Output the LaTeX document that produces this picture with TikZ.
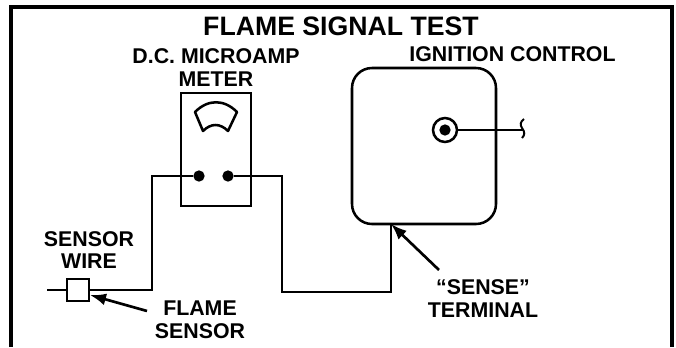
\documentclass[tikz,border=0pt]{standalone}
\usepackage{fontspec}
\setmainfont{Liberation Sans}
\usetikzlibrary{arrows.meta}
\tikzset{
  wire/.style={line width=1.9pt},
  pointer/.style={line width=2pt,-{Latex[length=12pt,width=9pt]}},
  lbl/.style={font=\bfseries\fontsize{16}{17}\selectfont,align=center,inner sep=0pt},
  terminal/.style={circle,fill=black,inner sep=0pt,minimum size=8.5pt},
}
\begin{document}
\begin{tikzpicture}[x=0.75pt,y=-0.75pt]
      \useasboundingbox (0,0) rectangle (676,347);
      \draw[line width=3pt] (11.3,347) -- (11.3,7) -- (671.5,7) -- (671.5,347);
      \node[lbl,font=\bfseries\fontsize{20}{24}\selectfont] (title) at (341,26) {FLAME SIGNAL TEST};
      \node[lbl] (meterlbl) at (216,67.5) {D.C. MICROAMP\\METER};
      \node[lbl] (controllbl) at (512.5,54) {IGNITION CONTROL};
      \node[lbl] (wirelbl) at (89,250) {SENSOR\\WIRE};
      \node[lbl] (sensorlbl) at (200,320) {FLAME\\SENSOR};
      \node[lbl] (senselbl) at (483,298.5) {``SENSE''\\TERMINAL};
      % meter
      \node[draw,wire,minimum width=52.5pt,minimum height=84.75pt,inner sep=0pt] (meter) at (216,149.5) {};
      \draw[wire,line join=round] (195,112) .. controls (208,99) and (224,99) .. (237,112) -- (228,131)
        .. controls (220,123) and (211,123) .. (203,131) -- cycle;
      \node[terminal] (dotl) at (199,176) {};
      \node[terminal] (dotr) at (228,176) {};
      % control
      \node[draw,wire,rounded corners=15pt,minimum width=108pt,minimum height=117pt,inner sep=0pt] (control) at (424,146) {};
      \node[draw,wire,circle,minimum size=18pt,inner sep=0pt] (socket) at (445,130) {};
      \node[terminal] (pin) at (445,130) {};
      \coordinate (wireend) at (523,130);
      \draw[wire] (socket.east) -- (wireend);
      \draw[line width=1.5pt] (524,119) .. controls (520,122) and (520,125) .. (522,128)
        .. controls (525,132) and (525,135) .. (522,138);
      % sensor
      \node[draw,wire,fill=white,minimum size=16.5pt,inner sep=0pt] (sensor) at (78,290) {};
      \coordinate (stub) at (47,290);
      \draw[wire] (stub) -- (sensor.west);
      \coordinate (cornerl) at (152,176);
      \draw[wire] (sensor.east) -| (cornerl) -- (dotl);
      \coordinate (cornerr) at (282,176);
      \coordinate (cornerb) at (282,292);
      \coordinate (sense) at (391,224);
      \draw[wire] (dotr) -- (cornerr) -- (cornerb) -| (sense);
      % pointers
      \coordinate (flametail) at (147,311);
      \coordinate (flametip) at (90,295);
      \coordinate (sensetail) at (439,270);
      \draw[pointer] (flametail) -- (flametip);
      \draw[pointer] (sensetail) -- (sense);
    \end{tikzpicture}
\end{document}
